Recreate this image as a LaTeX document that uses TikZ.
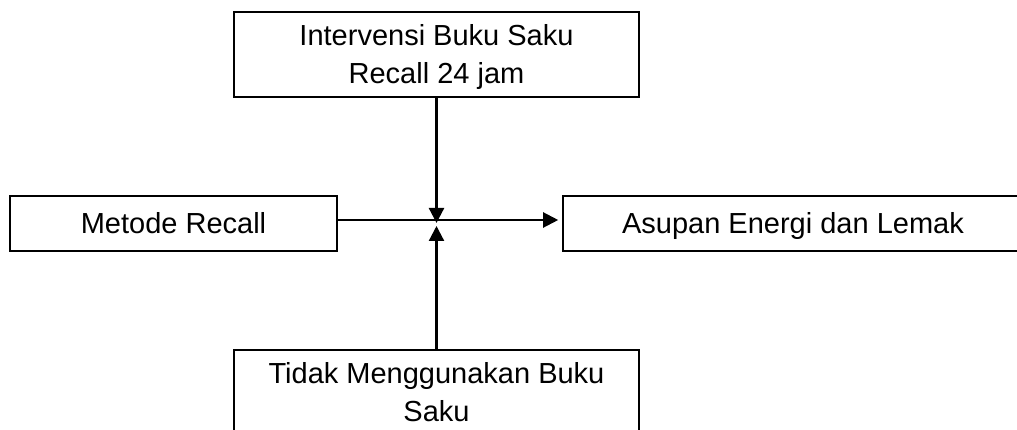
\documentclass[tikz,border=0pt]{standalone}
\usepackage{fontspec}
\setmainfont{Liberation Sans}
\usetikzlibrary{arrows.meta}

\begin{document}
\begin{tikzpicture}[x=1pt, y=-1pt,
    box/.style={draw, line width=1.6pt, align=center, inner sep=0pt,
      text height=21pt, text depth=0pt, font=\fontsize{29}{38}\selectfont},
    twoline/.style={text height=59pt, text depth=-9pt},
    conn/.style={line width=2.2pt, -{Triangle[length=15pt, width=15pt]}}]%
  \useasboundingbox (0, 0) rectangle (1017, 430);
  \node[box, twoline, minimum width=405, minimum height=85] (plan) at (436.5, 54.5)
    {Intervensi Buku Saku\\Recall 24 jam};
  \node[box, minimum width=327, minimum height=55] (metode) at (173.5, 223.5)
    {Metode Recall};
  \node[box, minimum width=460, minimum height=55] (asupan) at (793, 223.5)
    {Asupan Energi dan Lemak};
  \node[box, twoline, minimum width=405, minimum height=84] (tanpa) at (436.5, 392)
    {Tidak Menggunakan Buku\\Saku};
  \coordinate (hubN) at (436.5, 223);
  \coordinate (hubS) at (436.5, 226);
  \draw[conn, shorten >=4pt] ([yshift=3.5pt]metode.east) -- ([yshift=3.5pt]asupan.west);
  \draw[conn] (plan.south) -- (hubN);
  \draw[conn] (tanpa.north) -- (hubS);
\end{tikzpicture}
\end{document}
